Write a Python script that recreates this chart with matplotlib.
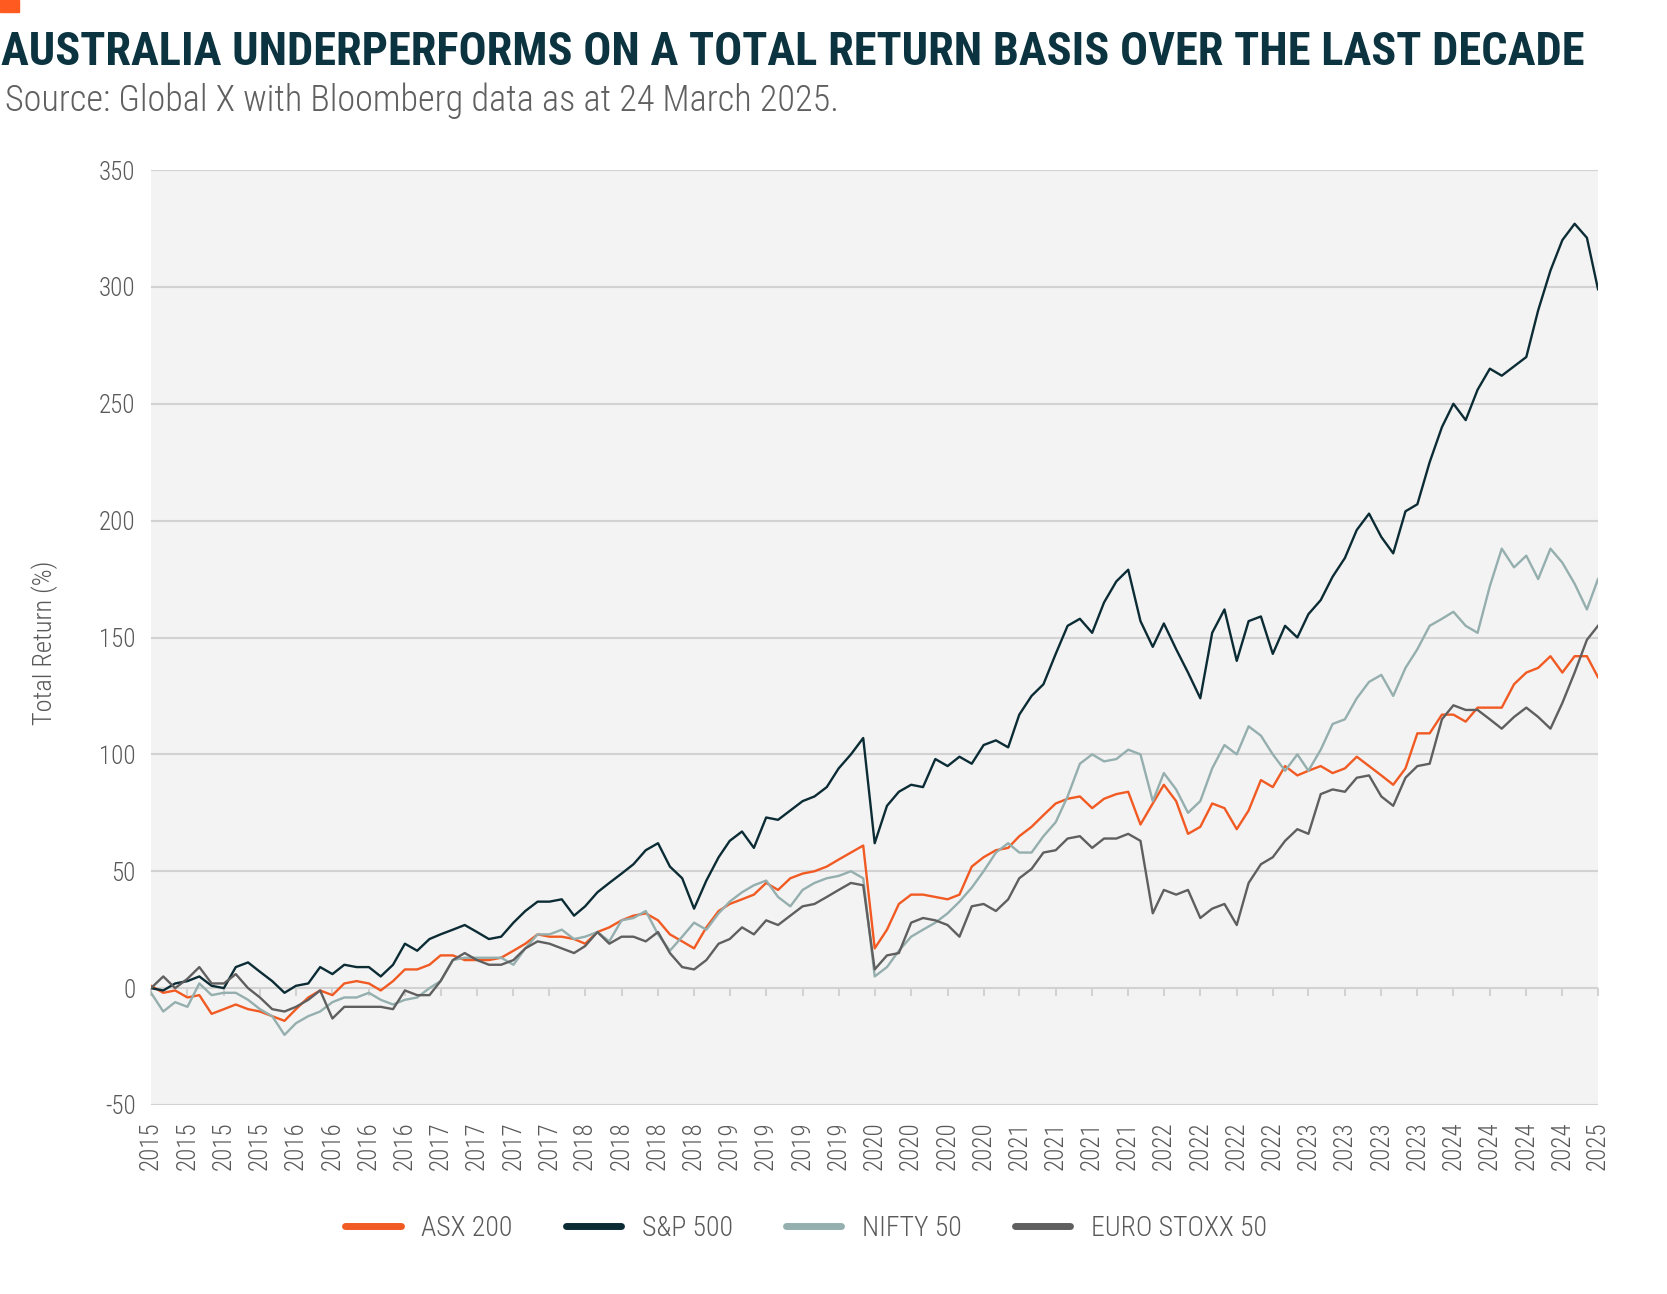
import numpy as np
import pandas as pd
import matplotlib
matplotlib.use('Agg')
import matplotlib.pyplot as plt
from matplotlib import font_manager
from matplotlib.lines import Line2D
from matplotlib.patches import Rectangle


# total return (%), one value per month (24th), Mar 2015 - Mar 2025
asx200 = [1, -2, -1, -4, -3, -11, -9, -7, -9, -10, -12, -14, -9, -4, -1, -3, 2, 3, 2, -1,
          3, 8, 8, 10, 14, 14, 12, 12, 12, 13, 16, 19, 23, 22, 22, 21, 19, 24, 26, 29,
          31, 32, 29, 23, 20, 17, 26, 33, 36, 38, 40, 45, 42, 47, 49, 50, 52, 55, 58, 61,
          17, 25, 36, 40, 40, 39, 38, 40, 52, 56, 59, 60, 65, 69, 74, 79, 81, 82, 77, 81,
          83, 84, 70, 79, 87, 80, 66, 69, 79, 77, 68, 76, 89, 86, 95, 91, 93, 95, 92, 94,
          99, 95, 91, 87, 94, 109, 109, 117, 117, 114, 120, 120, 120, 130, 135, 137, 142, 135, 142, 142,
          133]
sp500 = [0, -1, 2, 3, 5, 1, 0, 9, 11, 7, 3, -2, 1, 2, 9, 6, 10, 9, 9, 5,
         10, 19, 16, 21, 23, 25, 27, 24, 21, 22, 28, 33, 37, 37, 38, 31, 35, 41, 45, 49,
         53, 59, 62, 52, 47, 34, 46, 56, 63, 67, 60, 73, 72, 76, 80, 82, 86, 94, 100, 107,
         62, 78, 84, 87, 86, 98, 95, 99, 96, 104, 106, 103, 117, 125, 130, 143, 155, 158, 152, 165,
         174, 179, 157, 146, 156, 145, 135, 124, 152, 162, 140, 157, 159, 143, 155, 150, 160, 166, 176, 184,
         196, 203, 193, 186, 204, 207, 225, 240, 250, 243, 256, 265, 262, 266, 270, 290, 307, 320, 327, 321,
         299]
nifty50 = [-2, -10, -6, -8, 2, -3, -2, -2, -5, -9, -12, -20, -15, -12, -10, -6, -4, -4, -2, -5,
           -7, -5, -4, 0, 3, 12, 13, 13, 13, 13, 10, 17, 23, 23, 25, 21, 22, 24, 20, 29,
           30, 33, 23, 16, 22, 28, 25, 32, 37, 41, 44, 46, 39, 35, 42, 45, 47, 48, 50, 47,
           5, 9, 16, 22, 25, 28, 32, 37, 43, 50, 58, 62, 58, 58, 65, 71, 82, 96, 100, 97,
           98, 102, 100, 80, 92, 85, 75, 80, 94, 104, 100, 112, 108, 100, 93, 100, 93, 102, 113, 115,
           124, 131, 134, 125, 137, 145, 155, 158, 161, 155, 152, 172, 188, 180, 185, 175, 188, 182, 173, 162,
           175]
eurostoxx50 = [0, 5, 0, 4, 9, 2, 2, 6, 0, -4, -9, -10, -8, -5, -1, -13, -8, -8, -8, -8,
               -9, -1, -3, -3, 3, 12, 15, 12, 10, 10, 12, 17, 20, 19, 17, 15, 18, 24, 19, 22,
               22, 20, 24, 15, 9, 8, 12, 19, 21, 26, 23, 29, 27, 31, 35, 36, 39, 42, 45, 44,
               8, 14, 15, 28, 30, 29, 27, 22, 35, 36, 33, 38, 47, 51, 58, 59, 64, 65, 60, 64,
               64, 66, 63, 32, 42, 40, 42, 30, 34, 36, 27, 45, 53, 56, 63, 68, 66, 83, 85, 84,
               90, 91, 82, 78, 90, 95, 96, 115, 121, 119, 119, 115, 111, 116, 120, 116, 111, 122, 135, 149,
               155]

series_names = ['ASX 200', 'S&P 500', 'NIFTY 50', 'EURO STOXX 50']
series_colors = ['#f15a22', '#0c2c35', '#95aeae', '#5f5f5f']
y_ticks = [-50, 0, 50, 100, 150, 200, 250, 300, 350]

dates = pd.date_range('2015-03-01', '2025-03-01', freq='MS') + pd.Timedelta(days=23)
tick_dates = dates[::3]
tick_labels = [str(d.year) for d in tick_dates]

TITLE = 'AUSTRALIA UNDERPERFORMS ON A TOTAL RETURN BASIS OVER THE LAST DECADE'
SUBTITLE = 'Source: Global X with Bloomberg data as at 24 March 2025.'


# pick a narrow font if there is one
installed = {f.name for f in font_manager.fontManager.ttflist}
def pick(cands):
    for c in cands:
        if c in installed:
            return c
    return 'DejaVu Sans'

font = pick(['Roboto Condensed', 'Liberation Sans Narrow', 'Open Sans Condensed', 'Roboto', 'Liberation Sans'])
plt.rcParams['font.family'] = [font, 'DejaVu Sans']
plt.rcParams['axes.unicode_minus'] = False

W, H = 1667, 1294
fig = plt.figure(figsize=(W / 100, H / 100), dpi=100)
ax = fig.add_axes([151 / W, 1 - 1105 / H, (1598 - 151) / W, (1105 - 170) / H])
ax.set_facecolor('#f3f3f3')

data = [asx200, sp500, nifty50, eurostoxx50]
for vals, name, col in zip(data, series_names, series_colors):
    ax.plot(dates, vals, color=col, lw=1.7, label=name)

ax.set_xlim(dates[0], dates[-1])
ax.set_ylim(-50, 350)
ax.set_yticks(y_ticks)
ax.yaxis.grid(True, color='#d2d2d2', lw=1.5)
ax.set_axisbelow(True)
for s in ax.spines.values():
    s.set_visible(False)
ax.tick_params(axis='y', length=0, pad=11, labelsize=18, labelcolor='#595959')
ax.set_xticks(tick_dates)
ax.set_xticklabels(tick_labels, rotation=90)
ax.tick_params(axis='x', length=0, pad=12, labelsize=18, labelcolor='#595959')
for lab in ax.get_xticklabels() + ax.get_yticklabels():
    lab.set_fontweight('light')

fig.text(45 / W, 1 - 643 / H, 'Total Return (%)', rotation=90, fontsize=19, fontweight='light',
         color='#595959', ha='center', va='center')

# small ticks hanging off the zero line
zero_pos = (0 - ax.get_ylim()[0]) / (ax.get_ylim()[1] - ax.get_ylim()[0])
sec = ax.secondary_xaxis(zero_pos)
sec.set_xticks(tick_dates)
sec.xaxis.set_ticks_position('bottom')
sec.tick_params(axis='x', direction='out', length=6, width=1.5, color='#d2d2d2', labelbottom=False, labeltop=False)
for s in sec.spines.values():
    s.set_visible(False)

# legend
handles = [Line2D([0], [0], color=c, lw=5, solid_capstyle='round') for c in series_colors]
leg = fig.legend(handles, series_names, loc='center', bbox_to_anchor=(806 / W, 1 - 1228 / H), ncol=4,
                 frameon=False, fontsize=20, handlelength=2.0, handletextpad=0.75, columnspacing=1.9,
                 labelcolor='#595959')
for t in leg.get_texts():
    t.set_fontweight('light')

# header
fig.patches.append(Rectangle((0, 1 - 12 / H), 19 / W, 12 / H, transform=fig.transFigure,
                             color='#ff5a1f', zorder=5))
title = fig.text(1 / W, 1 - 65 / H, TITLE, fontsize=33, fontweight='bold', color='#0b3440',
                 ha='left', va='baseline')
sub = fig.text(5 / W, 1 - 111 / H, SUBTITLE, fontsize=24, fontweight='light', color='#606060',
               ha='left', va='baseline')

fig.canvas.draw()
r = fig.canvas.get_renderer()
title.set_fontsize(33 * 1588 / title.get_window_extent(r).width)
sub.set_fontsize(24 * 836 / sub.get_window_extent(r).width)

fig.savefig('out.png', dpi=100)
